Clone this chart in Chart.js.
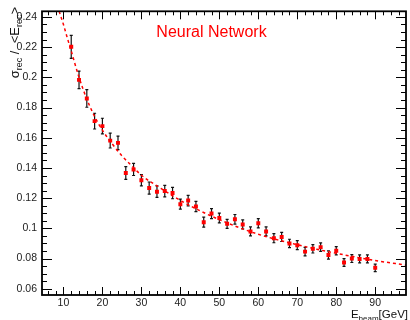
<!DOCTYPE html>
<html>
<head>
<meta charset="utf-8">
<script src="https://cdn.jsdelivr.net/npm/chart.js@4/dist/chart.umd.min.js"></script>
<style>
  html, body { margin: 0; padding: 0; background: #fff; }
  canvas { display: block; }
</style>
</head>
<body>
<canvas id="c" width="410" height="320"></canvas>
<script>
// Beam energies (GeV) and measured relative resolution with statistical errors
const beamEnergy = [12, 14, 16, 18, 20, 22, 24, 26, 28, 30, 32, 34, 36, 38, 40, 42, 44, 46, 48, 50,
                    52, 54, 56, 58, 60, 62, 64, 66, 68, 70, 72, 74, 76, 78, 80, 82, 84, 86, 88, 90];
const resolution = [0.2202, 0.1983, 0.1860, 0.1710, 0.1677, 0.1581, 0.1566, 0.1367, 0.1390, 0.1319,
                    0.1267, 0.1243, 0.1247, 0.1234, 0.1160, 0.1184, 0.1145, 0.1041, 0.1098, 0.1069,
                    0.1030, 0.1060, 0.1026, 0.0980, 0.1034, 0.0980, 0.0935, 0.0943, 0.0900, 0.0889,
                    0.0846, 0.0865, 0.0876, 0.0824, 0.0852, 0.0774, 0.0800, 0.0798, 0.0798, 0.0739];
const resolutionErr = [0.0076, 0.0058, 0.0058, 0.0052, 0.0052, 0.0049, 0.0045, 0.0042, 0.0040, 0.0037,
                       0.0040, 0.0038, 0.0038, 0.0038, 0.0033, 0.0035, 0.0034, 0.0033, 0.0033, 0.0032,
                       0.0030, 0.0032, 0.0030, 0.0030, 0.0031, 0.0030, 0.0030, 0.0030, 0.0028, 0.0030,
                       0.0028, 0.0028, 0.0028, 0.0027, 0.0027, 0.0026, 0.0026, 0.0026, 0.0026, 0.0025];

// Fitted resolution curve, sampled along the energy axis
const fitEnergy = [8.9, 10, 11, 12, 13, 14, 15, 16, 17, 18, 20, 22.5, 25, 27.5, 30, 35, 40, 45, 50,
                   55, 60, 65, 70, 75, 80, 85, 90, 97.9];
const fitResolution = [0.2437, 0.2350, 0.2260, 0.2175, 0.2085, 0.2000, 0.1925, 0.1855, 0.1795, 0.1740,
                       0.1650, 0.1560, 0.1480, 0.1415, 0.1352, 0.1265, 0.1185, 0.1117, 0.1058,
                       0.1006, 0.0961, 0.0924, 0.0892, 0.0862, 0.0835, 0.0810, 0.0787, 0.0757];

// Axis ranges and labelled ticks
const xRange = [4.5, 97.9];
const yRange = [0.0559, 0.2437];
const xTickValues = [10, 20, 30, 40, 50, 60, 70, 80, 90];
const yTickValues = [0.06, 0.08, 0.10, 0.12, 0.14, 0.16, 0.18, 0.20, 0.22, 0.24];
const xMinorStep = 2;
const yMinorStep = 0.005;

const FONT = '"Liberation Sans", Arial, Helvetica, sans-serif';
const RED = '#ff0000';

// Box frame with inward-pointing ticks on all four sides
const framePlugin = {
  id: 'frame',
  afterDraw(chart) {
    const { ctx, chartArea: a, scales: { x, y } } = chart;
    ctx.save();
    ctx.strokeStyle = '#000';
    ctx.lineWidth = 1;
    ctx.beginPath();
    for (let v = Math.ceil(xRange[0] / xMinorStep) * xMinorStep; v <= xRange[1]; v += xMinorStep) {
      const px = Math.round(x.getPixelForValue(v)) + 0.5;
      const len = (v % 10 === 0) ? 8 : 4;
      ctx.moveTo(px, a.bottom); ctx.lineTo(px, a.bottom - len);
      ctx.moveTo(px, a.top); ctx.lineTo(px, a.top + len);
    }
    const n0 = Math.ceil(yRange[0] / yMinorStep - 1e-6);
    for (let i = n0; i * yMinorStep <= yRange[1] + 1e-9; i++) {
      const v = i * yMinorStep;
      const py = Math.round(y.getPixelForValue(v)) + 0.5;
      const len = (i % 4 === 0) ? 10 : 5;
      ctx.moveTo(a.left, py); ctx.lineTo(a.left + len, py);
      ctx.moveTo(a.right, py); ctx.lineTo(a.right - len, py);
    }
    ctx.stroke();
    ctx.lineWidth = 1.8;
    ctx.strokeRect(a.left, a.top, a.right - a.left, a.bottom - a.top);
    ctx.restore();
  }
};

// Vertical error bars with small caps, drawn under the markers
const errorBarPlugin = {
  id: 'errorBars',
  beforeDatasetsDraw(chart) {
    const { ctx, scales: { x, y } } = chart;
    ctx.save();
    ctx.strokeStyle = '#111';
    ctx.lineWidth = 1.2;
    ctx.beginPath();
    beamEnergy.forEach((e, i) => {
      const px = x.getPixelForValue(e);
      const yl = y.getPixelForValue(resolution[i] - resolutionErr[i]);
      const yh = y.getPixelForValue(resolution[i] + resolutionErr[i]);
      ctx.moveTo(px, yl); ctx.lineTo(px, yh);
      ctx.moveTo(px - 1.5, yl); ctx.lineTo(px + 1.5, yl);
      ctx.moveTo(px - 1.5, yh); ctx.lineTo(px + 1.5, yh);
    });
    ctx.stroke();
    ctx.restore();
  }
};

// Draws a run of text pieces (main text and subscripts) left to right
function drawPieces(ctx, pieces, endX, baseY) {
  let total = 0;
  pieces.forEach(p => { ctx.font = p.font; total += ctx.measureText(p.text).width; });
  let cx = endX - total;
  pieces.forEach(p => {
    ctx.font = p.font;
    ctx.fillText(p.text, cx, baseY + (p.dy || 0));
    cx += ctx.measureText(p.text).width;
  });
}

// Axis titles and the in-plot label
const textPlugin = {
  id: 'texts',
  afterDraw(chart) {
    const { ctx } = chart;
    ctx.save();
    ctx.fillStyle = '#111';
    ctx.textBaseline = 'alphabetic';
    ctx.textAlign = 'left';

    // x-axis title
    const xMain = '11.5px ' + FONT;
    const xSub = '8px ' + FONT;
    drawPieces(ctx, [
      { text: 'E', font: xMain },
      { text: 'beam', font: xSub, dy: 3 },
      { text: '[GeV]', font: xMain }
    ], 408, 317.5);

    // y-axis title (rotated)
    const yMain = '13px ' + FONT;
    const ySub = '9px ' + FONT;
    ctx.save();
    ctx.translate(18.5, 7);
    ctx.rotate(-Math.PI / 2);
    drawPieces(ctx, [
      { text: 'σ', font: yMain },
      { text: 'rec', font: ySub, dy: 3 },
      { text: ' /  <E', font: yMain },
      { text: 'rec', font: ySub, dy: 3 },
      { text: '>', font: yMain }
    ], 0, 0);
    ctx.restore();

    // label inside the plot
    ctx.fillStyle = RED;
    ctx.font = '16px ' + FONT;
    ctx.textAlign = 'center';
    ctx.fillText('Neural Network', 211.5, 36.5);
    ctx.restore();
  }
};

new Chart(document.getElementById('c'), {
  data: {
    datasets: [
      {
        type: 'line',
        label: 'fit',
        data: fitEnergy.map((e, i) => ({ x: e, y: fitResolution[i] })),
        borderColor: RED,
        borderWidth: 1.5,
        borderDash: [3, 3],
        pointRadius: 0,
        cubicInterpolationMode: 'monotone',
        fill: false,
        order: 2
      },
      {
        type: 'scatter',
        label: 'data',
        data: beamEnergy.map((e, i) => ({ x: e, y: resolution[i] })),
        pointStyle: 'rect',
        pointRadius: 2.8,
        pointBackgroundColor: RED,
        pointBorderColor: RED,
        pointBorderWidth: 0,
        order: 1
      }
    ]
  },
  options: {
    responsive: false,
    animation: false,
    devicePixelRatio: 1,
    layout: { padding: { top: 7, right: 2, left: 0, bottom: 0 } },
    plugins: { legend: { display: false }, tooltip: { enabled: false }, title: { display: false } },
    scales: {
      x: {
        type: 'linear',
        min: xRange[0],
        max: xRange[1],
        grid: { display: false, drawTicks: false },
        border: { display: false },
        afterBuildTicks: s => { s.ticks = xTickValues.map(v => ({ value: v })); },
        afterFit: s => { s.height = 25; },
        ticks: {
          padding: 2,
          color: '#222',
          font: { family: FONT, size: 10.5 },
          maxRotation: 0,
          callback: v => String(v)
        }
      },
      y: {
        type: 'linear',
        min: yRange[0],
        max: yRange[1],
        grid: { display: false, drawTicks: false },
        border: { display: false },
        afterBuildTicks: s => { s.ticks = yTickValues.map(v => ({ value: v })); },
        afterFit: s => { s.width = 42; },
        ticks: {
          padding: 5,
          color: '#222',
          font: { family: FONT, size: 10.5 },
          callback: v => String(+Number(v).toFixed(2))
        }
      }
    }
  },
  plugins: [errorBarPlugin, framePlugin, textPlugin]
});
</script>
</body>
</html>
